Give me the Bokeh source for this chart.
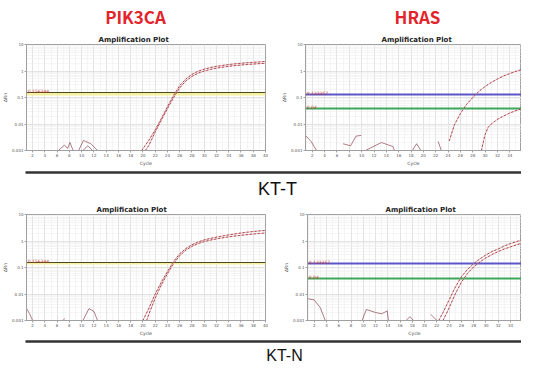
from bokeh.plotting import figure
from bokeh.layouts import column, row
from bokeh.models import FixedTicker, CustomJSTickFormatter, Range1d
from bokeh.core.properties import value
from bokeh.embed import file_html
from bokeh.resources import INLINE

# ---------------- data ----------------
gene_titles = ["PIK3CA", "HRAS"]
sample_labels = ["KT-T", "KT-N"]
y_ticks = [0.001, 0.01, 0.1, 1, 10]
y_minor = [m * d for d in [0.001, 0.01, 0.1, 1] for m in range(1, 10)] + [10]
x_ticks = list(range(2, 41, 2))
x_minor = list(range(1, 41))

# KT-T / PIK3CA
t_pik_c1_x = [19.8, 21, 22, 23, 24, 25, 26, 27, 28, 29, 30, 31, 32, 33, 34, 35, 36, 37, 38, 39, 40]
t_pik_c1_y = [0.001, 0.0025, 0.006, 0.016, 0.045, 0.12, 0.28, 0.5, 0.75, 0.98, 1.18, 1.35, 1.5, 1.63, 1.75, 1.86, 1.96, 2.05, 2.13, 2.2, 2.3]
t_pik_c2_x = [20.4, 21, 22, 23, 24, 25, 26, 27, 28, 29, 30, 31, 32, 33, 34, 35, 36, 37, 38, 39, 40]
t_pik_c2_y = [0.001, 0.0016, 0.005, 0.014, 0.038, 0.1, 0.23, 0.42, 0.63, 0.83, 1.0, 1.15, 1.28, 1.4, 1.5, 1.6, 1.68, 1.76, 1.83, 1.9, 1.95]
t_pik_n1_x = [6.2, 7.2, 7.7, 8.1, 8.6]
t_pik_n1_y = [0.001, 0.0016, 0.0012, 0.002, 0.001]
t_pik_n2_x = [9.5, 10.3, 11.5, 12.6]
t_pik_n2_y = [0.001, 0.0024, 0.0018, 0.001]
t_pik_n3_x = [10.2, 11.0, 11.8]
t_pik_n3_y = [0.001, 0.0015, 0.001]
t_pik_thr = [0.156]
t_pik_thr_lbl = ["0.156344"]

# KT-T / HRAS
t_hras_c1_x = [24.2, 25, 26, 27, 28, 29, 30, 31, 32, 33, 34, 35, 36, 37, 38, 39, 40]
t_hras_c1_y = [0.0023, 0.009, 0.025, 0.055, 0.1, 0.17, 0.26, 0.37, 0.5, 0.65, 0.8, 0.97, 1.15, 1.35, 1.7, 1.9, 2.1]
t_hras_c2_x = [29.4, 30, 30.5, 31, 32, 33, 34, 35, 36, 37, 38, 39, 40]
t_hras_c2_y = [0.001, 0.004, 0.0075, 0.01, 0.015, 0.02, 0.026, 0.032, 0.038, 0.044, 0.05, 0.055, 0.06]
t_hras_n1_x = [1.0, 1.8, 2.7]
t_hras_n1_y = [0.0035, 0.0022, 0.001]
t_hras_n2_x = [7.0, 8.2, 9.1, 9.9]
t_hras_n2_y = [0.0018, 0.0015, 0.0035, 0.0037]
t_hras_n3_x = [10.6, 13.2, 15.1, 15.3]
t_hras_n3_y = [0.001, 0.002, 0.0014, 0.001]
t_hras_n4_x = [18.2, 18.9, 19.6]
t_hras_n4_y = [0.001, 0.0018, 0.001]
t_hras_n5_x = [22.4, 22.9]
t_hras_n5_y = [0.0022, 0.001]
t_hras_thr = [0.13, 0.04]
t_hras_thr_lbl = ["0.133357", "0.04"]

# KT-N / PIK3CA
n_pik_c1_x = [20.0, 21, 22, 23, 24, 25, 26, 27, 28, 29, 30, 31, 32, 33, 34, 35, 36, 37, 38, 39, 40]
n_pik_c1_y = [0.001, 0.003, 0.01, 0.028, 0.07, 0.17, 0.33, 0.52, 0.72, 0.92, 1.1, 1.25, 1.4, 1.55, 1.7, 1.85, 2.0, 2.15, 2.28, 2.4, 2.5]
n_pik_c2_x = [20.6, 21, 22, 23, 24, 25, 26, 27, 28, 29, 30, 31, 32, 33, 34, 35, 36, 37, 38, 39, 40]
n_pik_c2_y = [0.001, 0.0018, 0.007, 0.022, 0.058, 0.14, 0.28, 0.45, 0.63, 0.8, 0.95, 1.08, 1.2, 1.32, 1.43, 1.54, 1.64, 1.74, 1.83, 1.92, 2.0]
n_pik_n1_x = [1.0, 1.5, 2.0]
n_pik_n1_y = [0.0029, 0.0018, 0.001]
n_pik_n2_x = [7.0, 7.2]
n_pik_n2_y = [0.001, 0.0012]
n_pik_n3_x = [10.2, 11.2, 12.0, 12.6]
n_pik_n3_y = [0.001, 0.0028, 0.0022, 0.001]
n_pik_thr = [0.16]
n_pik_thr_lbl = ["0.156344"]

# KT-N / HRAS
n_hras_c1_x = [22.3, 23, 24, 25, 26, 27, 28, 29, 30, 31, 32, 33, 34, 35, 36, 37, 38, 39, 40]
n_hras_c1_y = [0.001, 0.002, 0.006, 0.018, 0.045, 0.085, 0.14, 0.21, 0.3, 0.4, 0.5, 0.65, 0.8, 0.95, 1.13, 1.35, 1.65, 1.9, 2.1]
n_hras_c2_x = [23.0, 24, 25, 26, 27, 28, 29, 30, 31, 32, 33, 34, 35, 36, 37, 38, 39, 40]
n_hras_c2_y = [0.001, 0.003, 0.01, 0.028, 0.06, 0.105, 0.16, 0.23, 0.31, 0.4, 0.5, 0.6, 0.72, 0.85, 1.0, 1.15, 1.3, 1.45]
n_hras_n1_x = [1.0, 2.0, 3.0, 3.8]
n_hras_n1_y = [0.0066, 0.006, 0.003, 0.001]
n_hras_n2_x = [9.8, 10.5, 12.0, 13.0, 13.9, 14.1]
n_hras_n2_y = [0.001, 0.0026, 0.002, 0.0018, 0.0023, 0.001]
n_hras_n3_x = [17.0, 17.6, 18.2]
n_hras_n3_y = [0.001, 0.0014, 0.001]
n_hras_n4_x = [21.0, 22.0]
n_hras_n4_y = [0.0017, 0.001]
n_hras_thr = [0.14, 0.04]
n_hras_thr_lbl = ["0.133357", "0.04"]

# ---------------- style ----------------
MAROON = "#7b2232"
PINK = "#e58a8a"
RED_TXT = "#e3242b"
TICK_FONT = "DejaVu Sans"
W = 521
FRAME_H = 107
AX_B = 17


def amp_plot(width, min_left, min_right, min_top, x_start, x_end, title_off,
             curves, noise, thr, thr_lbl, kind):
    p = figure(width=width, height=min_top + FRAME_H + AX_B, y_axis_type="log",
               x_range=Range1d(x_start, x_end), y_range=Range1d(0.001, 10),
               output_backend="svg", toolbar_location=None,
               min_border_left=min_left, min_border_right=min_right,
               min_border_top=min_top, min_border_bottom=AX_B)
    p.title.text = "Amplification Plot"
    p.title.align = "left"
    p.title.text_font = "DejaVu Sans"
    p.title.text_font_size = "7px"
    p.title.text_font_style = "bold"
    p.title.text_color = "#222222"
    p.title.standoff = 1
    p.title.offset = title_off
    p.outline_line_color = "#a0a0a0"
    p.background_fill_color = "white"
    p.border_fill_color = "white"

    p.xaxis.ticker = FixedTicker(ticks=x_ticks, minor_ticks=x_minor)
    p.yaxis.ticker = FixedTicker(ticks=y_ticks, minor_ticks=y_minor)
    p.yaxis.formatter = CustomJSTickFormatter(
        code="return tick >= 1 ? tick.toFixed(0) : tick.toPrecision(1);")
    for ax in (p.xaxis, p.yaxis):
        ax.major_label_text_font = TICK_FONT
        ax.major_label_text_font_size = "4px"
        ax.major_label_text_color = "#555555"
        ax.major_label_standoff = 1
        ax.axis_label_text_font = TICK_FONT
        ax.axis_label_text_font_size = "4.5px"
        ax.axis_label_text_font_style = "normal"
        ax.axis_label_text_color = "#444444"
        ax.axis_label_standoff = 1
        ax.major_tick_out = 2
        ax.major_tick_in = 0
        ax.minor_tick_out = 0
        ax.minor_tick_in = 0
        ax.axis_line_color = "#a0a0a0"
        ax.major_tick_line_color = "#a0a0a0"
    p.xaxis.axis_label = "Cycle"
    p.yaxis.axis_label = "ΔRn"

    for g in (p.xgrid, p.ygrid):
        g.grid_line_color = "#d6d6d6"
        g.grid_line_width = 0.6
        g.minor_grid_line_color = "#ebebeb"
        g.minor_grid_line_width = 0.5

    # thresholds
    if kind == "pik":
        p.hstrip(y0=[thr[0] * 0.78], y1=[thr[0]], fill_color="#f6f09a",
                 line_color=None, fill_alpha=0.95)
        p.hspan(y=thr, line_color="#4a4a24", line_width=1.1)
    else:
        p.hspan(y=[thr[0]], line_color="#5a55c8", line_width=1.8)
        p.hspan(y=[thr[1]], line_color="#3aa85a", line_width=1.8)
    p.text(x=[x_start + 0.2] * len(thr), y=thr, text=thr_lbl, text_font=value(TICK_FONT),
           text_font_size="4.5px", text_color="#c0392b", text_baseline="bottom",
           text_align="left", y_offset=0.5)

    for xs, ys in noise:
        p.line(xs, ys, line_color=MAROON, line_width=0.7, line_alpha=0.85)
    for xs, ys in curves:
        p.line(xs, ys, line_color=PINK, line_width=0.7)
        p.line(xs, ys, line_color=MAROON, line_width=0.7, line_dash="2 2")
    return p


def banner(height, texts, xs, ys, sizes, colors, styles, font, line_y=None):
    p = figure(width=W, height=height, x_range=Range1d(0, W), y_range=Range1d(height, 0),
               output_backend="svg", toolbar_location=None, min_border=0)
    p.axis.visible = False
    p.grid.visible = False
    p.outline_line_color = None
    p.background_fill_color = "white"
    if line_y is not None:
        p.segment(x0=[25], y0=[line_y], x1=[W], y1=[line_y], line_color="#333333", line_width=2.5)
    for t, x, y, s, c, st in zip(texts, xs, ys, sizes, colors, styles):
        p.text(x=[x], y=[y], text=[t], text_font=value(font),
               text_font_size=s, text_color=c, text_align="center", text_baseline="middle",
               text_font_style=st)
    return p


head = banner(32, gene_titles, [135, 417], [16, 16], ["17px", "17px"],
              [RED_TXT, RED_TXT], ["bold", "bold"], "Noto Sans CJK SC")

pA = amp_plot(268, 23, 3, 12, 1, 40, 72,
              [(t_pik_c1_x, t_pik_c1_y), (t_pik_c2_x, t_pik_c2_y)],
              [(t_pik_n1_x, t_pik_n1_y), (t_pik_n2_x, t_pik_n2_y), (t_pik_n3_x, t_pik_n3_y)],
              t_pik_thr, t_pik_thr_lbl, "pik")
pB = amp_plot(253, 37, 0, 12, 0.9, 35.9, 76,
              [(t_hras_c1_x, t_hras_c1_y), (t_hras_c2_x, t_hras_c2_y)],
              [(t_hras_n1_x, t_hras_n1_y), (t_hras_n2_x, t_hras_n2_y), (t_hras_n3_x, t_hras_n3_y),
               (t_hras_n4_x, t_hras_n4_y), (t_hras_n5_x, t_hras_n5_y)],
              t_hras_thr, t_hras_thr_lbl, "hras")

sep1 = banner(34, [sample_labels[0]], [277], [20], ["18px"], ["#111111"], ["normal"],
              "Liberation Sans", line_y=4)

pC = amp_plot(268, 20, 3, 12, 1, 40, 70,
              [(n_pik_c1_x, n_pik_c1_y), (n_pik_c2_x, n_pik_c2_y)],
              [(n_pik_n1_x, n_pik_n1_y), (n_pik_n2_x, n_pik_n2_y), (n_pik_n3_x, n_pik_n3_y)],
              n_pik_thr, n_pik_thr_lbl, "pik")
pD = amp_plot(253, 39, 0, 12, 0.9, 35.8, 78,
              [(n_hras_c1_x, n_hras_c1_y), (n_hras_c2_x, n_hras_c2_y)],
              [(n_hras_n1_x, n_hras_n1_y), (n_hras_n2_x, n_hras_n2_y), (n_hras_n3_x, n_hras_n3_y),
               (n_hras_n4_x, n_hras_n4_y)],
              n_hras_thr, n_hras_thr_lbl, "hras")

sep2 = banner(30, [sample_labels[1]], [284], [17], ["16px"], ["#111111"], ["normal"],
              "Liberation Sans", line_y=3)

layout = column(head, row(pA, pB), sep1, row(pC, pD), sep2)

with open("out.html", "w") as f:
    f.write(file_html(layout, INLINE))
